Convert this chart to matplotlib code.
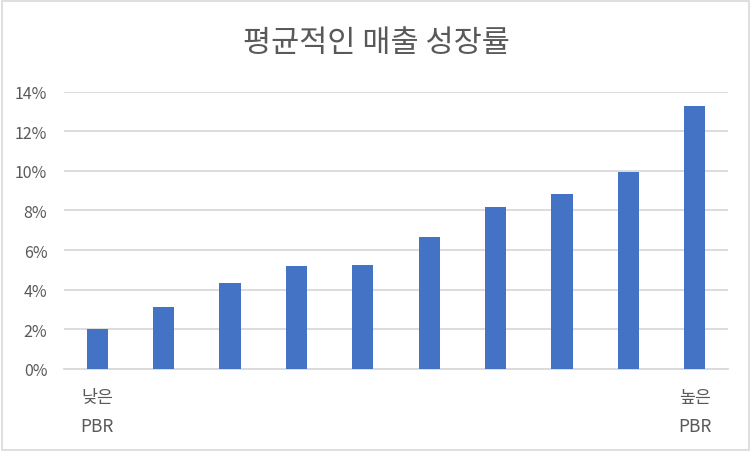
import numpy as np
import matplotlib
matplotlib.use('Agg')
import matplotlib.pyplot as plt
from matplotlib.ticker import PercentFormatter
from matplotlib.patches import Rectangle

plt.rcParams['font.family'] = ['Noto Sans CJK KR', 'DejaVu Sans']

# average sales growth per PBR bucket (low -> high)
growth = [2.02, 3.12, 4.33, 5.19, 5.24, 6.66, 8.17, 8.83, 9.94, 13.28]
x_labels = ['낮은\nPBR', '', '', '', '', '', '', '', '', '높은\nPBR']
y_ticks = [0, 2, 4, 6, 8, 10, 12, 14]

text_gray = '#595959'
bar_blue = '#4472C4'
grid_gray = '#D9D9D9'

fig = plt.figure(figsize=(7.52, 4.52), dpi=100)
fig.patches.append(Rectangle((0.003, 0.003), 0.993, 0.993, transform=fig.transFigure,
                             fill=False, edgecolor='#D9D9D9', linewidth=1.2))

ax = fig.add_axes([64 / 752, 82 / 452, 664 / 752, 277.5 / 452])
pos = np.arange(len(growth))
ax.bar(pos, growth, width=0.32, color=bar_blue, zorder=3)

ax.set_xlim(-0.5, len(growth) - 0.5)
ax.set_ylim(0, 14)
ax.set_yticks(y_ticks)
ax.yaxis.set_major_formatter(PercentFormatter(decimals=0))
ax.set_xticks(pos)
ax.set_xticklabels(x_labels, linespacing=1.75)

ax.grid(axis='y', color=grid_gray, linewidth=1.3, zorder=0)
for s in ['top', 'right', 'left']:
    ax.spines[s].set_visible(False)
ax.spines['bottom'].set_color(grid_gray)
ax.spines['bottom'].set_linewidth(1.3)
ax.tick_params(axis='both', length=0, colors=text_gray, labelsize=11.5)
ax.tick_params(axis='x', labelsize=12.5)
ax.tick_params(axis='y', pad=12)
ax.tick_params(axis='x', pad=14)

fig.text(0.5, 1 - 43 / 452, '평균적인 매출 성장률', ha='center', va='center',
         fontsize=22, color=text_gray)

fig.savefig('out.png', dpi=100)
